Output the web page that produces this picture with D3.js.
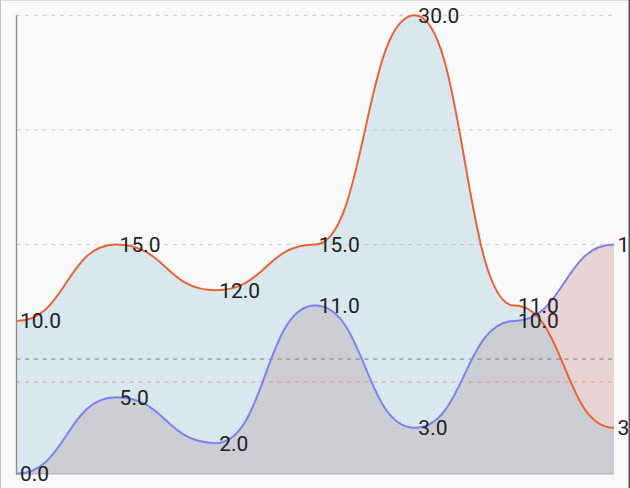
<!DOCTYPE html>
<html>
<head>
<meta charset="utf-8">
<script src="https://cdn.jsdelivr.net/npm/d3@7/dist/d3.min.js"></script>
<style>
  html, body { margin: 0; padding: 0; background: #fafafa; }
  svg { display: block; }
</style>
</head>
<body>
<div id="chart"></div>
<script>
// chart data
const xValues = [0, 1, 2, 3, 4, 5, 6];
const seriesA = [10, 15, 12, 15, 30, 11, 3];   // orange line, blue fill
const seriesB = [0, 5, 2, 11, 3, 10, 15];      // purple line, pink fill
const gridTicks = [7.5, 15, 22.5, 30];
const limitLines = [
    { value: 7.5, color: "rgba(100,100,100,0.6)" },
    { value: 6, color: "rgba(235,120,95,0.6)" }
];

const width = 630, height = 488;
const margin = { top: 15.3, right: 16, bottom: 14.3, left: 16.5 };

const svg = d3.select("#chart").append("svg")
    .attr("width", width)
    .attr("height", height);

svg.append("rect")
    .attr("width", width)
    .attr("height", height)
    .attr("fill", "#fafafa");

const x = d3.scalePoint()
    .domain(xValues)
    .range([margin.left, width - margin.right]);

const y = d3.scaleLinear()
    .domain([0, 30])
    .range([height - margin.bottom, margin.top]);

// grid lines
svg.append("g")
    .selectAll("line")
    .data(gridTicks)
    .join("line")
    .attr("x1", margin.left)
    .attr("x2", width - margin.right)
    .attr("y1", d => y(d))
    .attr("y2", d => y(d))
    .attr("stroke", "#cccccc")
    .attr("stroke-width", 1)
    .attr("stroke-dasharray", "4,4.7");

const area = vals => d3.area()
    .curve(d3.curveBumpX)
    .x((d, i) => x(xValues[i]))
    .y0(y(0))
    .y1(d => d)(vals.map(v => y(v)));

const line = vals => d3.line()
    .curve(d3.curveBumpX)
    .x((d, i) => x(xValues[i]))
    .y(d => d)(vals.map(v => y(v)));

// fills
svg.append("path")
    .attr("d", area(seriesB))
    .attr("fill", "rgba(197,127,130,0.3)");

svg.append("path")
    .attr("d", area(seriesA))
    .attr("fill", "rgba(140,193,213,0.3)");

// limit lines
svg.append("g")
    .selectAll("line")
    .data(limitLines)
    .join("line")
    .attr("x1", margin.left)
    .attr("x2", width - margin.right)
    .attr("y1", d => y(d.value))
    .attr("y2", d => y(d.value))
    .attr("stroke", d => d.color)
    .attr("stroke-width", 1)
    .attr("stroke-dasharray", "4,4.7");

// axes
svg.append("line")
    .attr("x1", margin.left)
    .attr("x2", width - margin.right)
    .attr("y1", y(0))
    .attr("y2", y(0))
    .attr("stroke", "#bbbbbb")
    .attr("stroke-width", 1.5);

svg.append("line")
    .attr("x1", margin.left)
    .attr("x2", margin.left)
    .attr("y1", y(30))
    .attr("y2", y(0) + 0.75)
    .attr("stroke", "#8a8a8a")
    .attr("stroke-width", 1.3);

// lines
svg.append("path")
    .attr("d", line(seriesB))
    .attr("fill", "none")
    .attr("stroke", "#8080f0")
    .attr("stroke-width", 2);

svg.append("path")
    .attr("d", line(seriesA))
    .attr("fill", "none")
    .attr("stroke", "#e9643a")
    .attr("stroke-width", 2);

// value labels
const fmt = d3.format(".1f");
[seriesA, seriesB].forEach(vals => {
    svg.append("g")
        .selectAll("text")
        .data(vals)
        .join("text")
        .attr("x", (d, i) => x(xValues[i]) + 3.5)
        .attr("y", d => y(d))
        .attr("dy", "0.36em")
        .attr("font-family", "Roboto, sans-serif")
        .attr("font-size", 21)
        .attr("fill", "#222")
        .text(d => fmt(d));
});

// window frame
svg.append("rect").attr("x", 0).attr("y", 0).attr("width", width).attr("height", 1).attr("fill", "#dddddd");
svg.append("rect").attr("x", 0).attr("y", 0).attr("width", 1).attr("height", height).attr("fill", "#c4c4c4");
svg.append("rect").attr("x", width - 1.5).attr("y", 0).attr("width", 1.5).attr("height", height).attr("fill", "#555555");
</script>
</body>
</html>
